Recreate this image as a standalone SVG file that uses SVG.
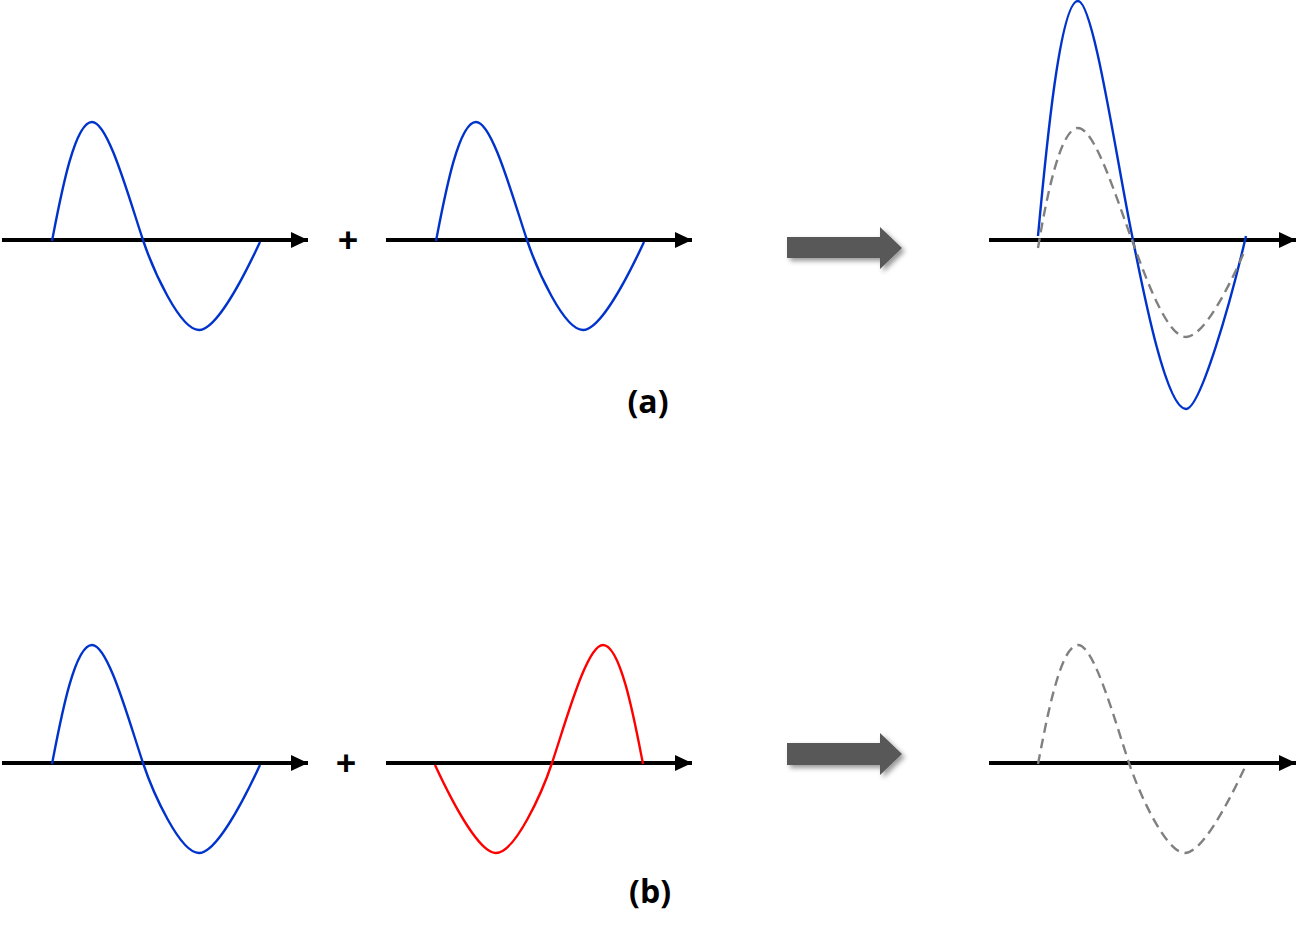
<svg xmlns="http://www.w3.org/2000/svg" xmlns:xlink="http://www.w3.org/1999/xlink" width="1315" height="935" viewBox="0 0 1315 935">
<style>
.axis{stroke:#000;stroke-width:4;fill:none}
.blue{stroke:#0033cc;stroke-width:2.4;fill:none}
.red{stroke:#ff0000;stroke-width:2.4;fill:none}
.dash{stroke:#808080;stroke-width:2.4;fill:none;stroke-dasharray:10 6}
.lbl{font-family:"Open Sans","DejaVu Sans",sans-serif;font-weight:700;fill:#000}
.big{fill:#595959;filter:url(#sh)}
</style>
<defs>
<marker id="ah" viewBox="0 0 17 16" refX="17" refY="8" markerWidth="17" markerHeight="16" markerUnits="userSpaceOnUse" orient="auto">
<path d="M0,0 L17,8 L0,16 Z" fill="#000"/>
</marker>
<filter id="sh" x="-20%" y="-30%" width="150%" height="180%">
<feDropShadow dx="3" dy="3" stdDeviation="2.5" flood-color="#000" flood-opacity="0.4"/>
</filter>
<path id="wave" d="M0,1 C8,-40 22,-118 40,-118 C56,-118 76,-45 91,0 C101,30 128,90 147,90 C163,90 188,45 208,2"/>
</defs>
<rect width="1315" height="935" fill="#fff"/>
<g id="connectors">
<line class="axis" x1="2" y1="240" x2="308" y2="240" marker-end="url(#ah)"/>
<line class="axis" x1="386" y1="240" x2="692" y2="240" marker-end="url(#ah)"/>
<line class="axis" x1="989" y1="240" x2="1296" y2="240" marker-end="url(#ah)"/>
<line class="axis" x1="2" y1="763" x2="308" y2="763" marker-end="url(#ah)"/>
<line class="axis" x1="386" y1="763" x2="692" y2="763" marker-end="url(#ah)"/>
<line class="axis" x1="989" y1="763" x2="1296" y2="763" marker-end="url(#ah)"/>
</g>
<g id="wave-a1"><use href="#wave" class="blue" transform="translate(52,240)"/></g>
<g id="wave-a2"><use href="#wave" class="blue" transform="translate(436,240)"/></g>
<g id="plus-a"><text class="lbl" x="348" y="253" font-size="36" text-anchor="middle">+</text></g>
<g id="arrow-a"><path class="big" d="M787,237 L880,237 L880,227 L902,248 L880,269 L880,258 L787,258 Z"/></g>
<g id="result-a">
<path class="blue" d="M1038,236 C1046,150 1060,1 1078,1 C1094,1 1118,170 1133,240 C1143,290 1166,409 1186,409 C1200,409 1230,305 1246,236"/>
<path class="dash" d="M1038,248 C1046,200 1060,128 1078,128 C1095,128 1117,200 1132,240 C1143,270 1166,337 1186,337 C1203,337 1228,290 1245,250"/>
</g>
<g id="label-a"><text class="lbl" x="648" y="413" font-size="32" text-anchor="middle">(a)</text></g>
<g id="wave-b1"><use href="#wave" class="blue" transform="translate(52,763)"/></g>
<g id="wave-b2"><use href="#wave" class="red" transform="translate(643,763) scale(-1,1)"/></g>
<g id="plus-b"><text class="lbl" x="346" y="776" font-size="36" text-anchor="middle">+</text></g>
<g id="arrow-b"><path class="big" d="M787,743 L880,743 L880,733 L902,754 L880,775 L880,765 L787,765 Z"/></g>
<g id="result-b"><use href="#wave" class="dash" transform="translate(1038,763)"/></g>
<g id="label-b"><text class="lbl" x="650" y="903" font-size="32" text-anchor="middle">(b)</text></g>
</svg>
